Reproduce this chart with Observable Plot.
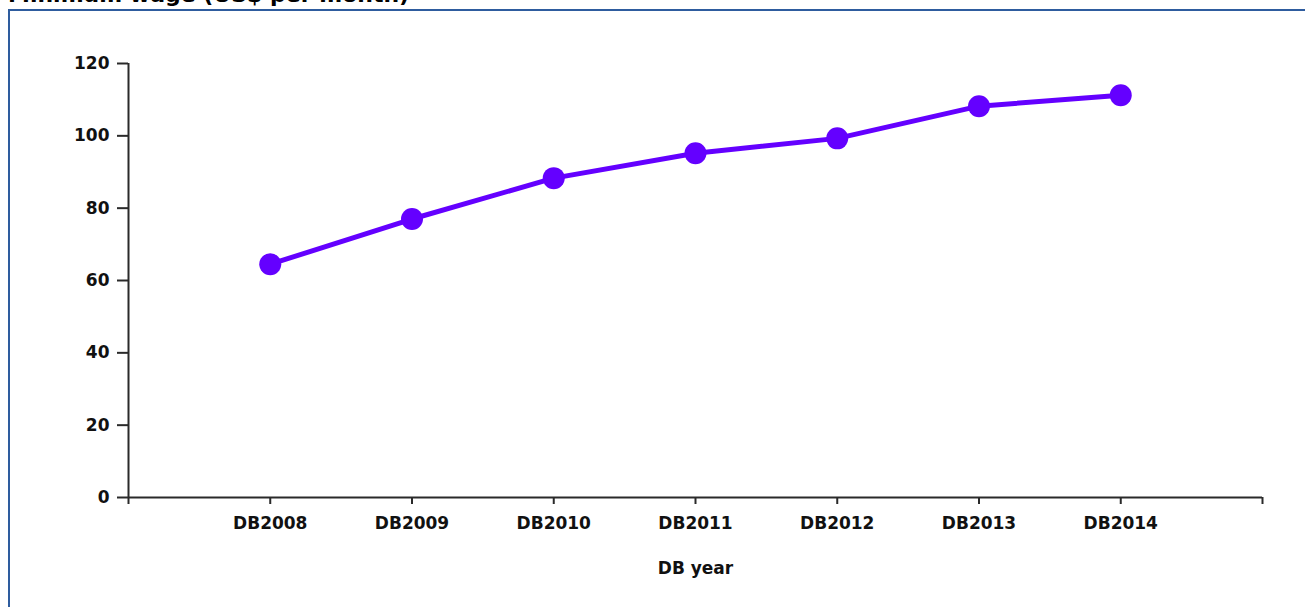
<!DOCTYPE html>
<html>
<head>
<meta charset="utf-8">
<script src="https://cdn.jsdelivr.net/npm/d3@7"></script>
<script src="https://cdn.jsdelivr.net/npm/@observablehq/plot@0.6"></script>
<style>
  html, body { margin: 0; padding: 0; background: #fff; overflow: hidden; }
  #wrap { position: relative; width: 1305px; height: 607px; overflow: hidden; }
  #title { position: absolute; left: 8px; top: -16px; font: bold 22px "DejaVu Sans", sans-serif; line-height: 22px; color: #000; white-space: nowrap; }
  #frame { position: absolute; left: 8px; top: 9px; width: 1400px; height: 700px; border: 2px solid #2e5c9e; box-sizing: border-box; }
  #chart { position: absolute; left: 0; top: 0; }
</style>
</head>
<body>
<div id="wrap">
  <div id="title">Minimum wage (US$ per month)</div>
  <div id="frame"></div>
  <div id="chart"></div>
</div>
<script>
const years = ["DB2008", "DB2009", "DB2010", "DB2011", "DB2012", "DB2013", "DB2014"];
const wages = [64.5, 77, 88.3, 95.2, 99.3, 108.2, 111.2];
const yTicks = [0, 20, 40, 60, 80, 100, 120];
const xLabel = "DB year";

const data = years.map((y, i) => ({idx: i + 1, year: y, wage: wages[i]}));
const axisColor = "#2a2a2a";
const font = "DejaVu Sans, sans-serif";

const chart = Plot.plot({
  width: 1305,
  height: 607,
  marginLeft: 128,
  marginRight: 43,
  marginTop: 63,
  marginBottom: 110,
  style: {fontFamily: font, fontSize: "17px", fontWeight: "bold", color: "#111", background: "transparent"},
  x: {domain: [0, years.length + 1]},
  y: {domain: [0, 120]},
  marks: [
    Plot.ruleY([0], {stroke: axisColor, strokeWidth: 2}),
    Plot.ruleX([0], {y1: 0, y2: 120, stroke: axisColor, strokeWidth: 2}),
    Plot.axisY({
      ticks: yTicks, tickSize: 11, tickPadding: 8, stroke: axisColor, strokeWidth: 2,
      label: null, fontSize: 17, fontWeight: "bold", fill: "#111"
    }),
    Plot.axisX({
      ticks: d3.range(0, years.length + 2), tickSize: 7, tickPadding: 12,
      tickFormat: i => years[i - 1] ?? "", stroke: axisColor, strokeWidth: 2,
      label: null, fontSize: 17, fontWeight: "bold", fill: "#111"
    }),
    Plot.text([xLabel], {frameAnchor: "bottom", dy: 71, text: d => d, fontSize: 17, fontWeight: "bold", fill: "#111", lineAnchor: "middle"}),
    Plot.line(data, {x: "idx", y: "wage", stroke: "#6400ff", strokeWidth: 5}),
    Plot.dot(data, {x: "idx", y: "wage", r: 11, fill: "#6400ff", stroke: "none"})
  ]
});
document.getElementById("chart").appendChild(chart);
</script>
</body>
</html>
